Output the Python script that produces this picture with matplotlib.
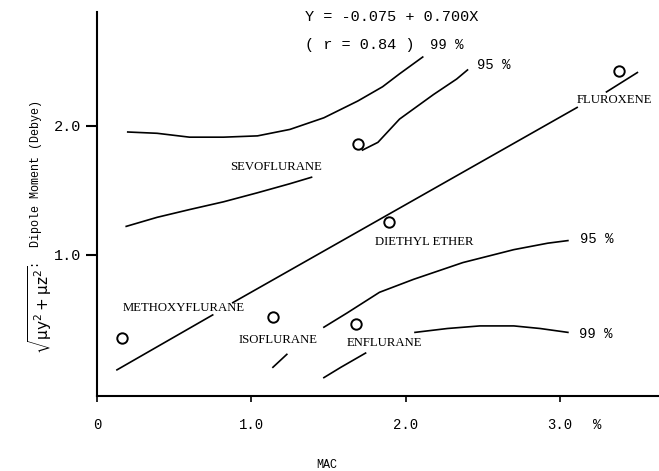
import numpy as np
import matplotlib
matplotlib.use("Agg")
import matplotlib.pyplot as plt

nan = np.nan

# anaesthetics: MAC (%) vs dipole moment (Debye)
names = ["METHOXYFLURANE", "ISOFLURANE", "ENFLURANE", "DIETHYL ETHER",
         "SEVOFLURANE", "FLUROXENE"]
mac = [0.165, 1.14, 1.68, 1.89, 1.69, 3.38]
dipole = [0.357, 0.52, 0.465, 1.25, 1.86, 2.42]

# label anchor (left, centre) for each name
label_x = [0.165, 0.92, 1.62, 1.80, 0.86, 3.11]
label_y = [0.59, 0.34, 0.32, 1.10, 1.68, 2.20]

# regression line (broken where labels sit)
reg_x = [0.13, 0.75, nan, 0.88, 3.11, nan, 3.30, 3.50]
reg_y = [0.11, 0.535, nan, 0.63, 2.14, nan, 2.26, 2.41]

# confidence bands
up99_x = [0.20, 0.39, 0.60, 0.82, 1.04, 1.25, 1.47, 1.69, 1.85, 1.96, 2.11]
up99_y = [1.95, 1.94, 1.91, 1.91, 1.92, 1.97, 2.06, 2.19, 2.30, 2.40, 2.53]

up95_x = [0.19, 0.39, 0.60, 0.82, 1.04, 1.25, 1.39, nan,
          1.72, 1.82, 1.96, 2.18, 2.33, 2.40]
up95_y = [1.22, 1.29, 1.35, 1.41, 1.48, 1.55, 1.60, nan,
          1.81, 1.87, 2.05, 2.24, 2.36, 2.43]

lo95_x = [1.14, 1.23, nan, 1.47, 1.62, 1.83, 2.05, 2.37, 2.70, 2.92, 3.05]
lo95_y = [0.13, 0.23, nan, 0.44, 0.55, 0.71, 0.81, 0.94, 1.04, 1.09, 1.11]

lo99_x = [1.47, 1.58, 1.74, nan, 2.06, 2.27, 2.48, 2.70, 2.87, 3.05]
lo99_y = [0.05, 0.13, 0.24, nan, 0.40, 0.43, 0.45, 0.45, 0.43, 0.40]

band_labels = ["99 %", "95 %", "95 %", "99 %"]
band_label_x = [2.16, 2.46, 3.13, 3.12]
band_label_y = [2.62, 2.47, 1.12, 0.39]

x_ticks = [0, 1, 2, 3]
x_ticklabels = ["0", "1.0", "2.0", "3.0"]
y_ticks = [1, 2]
y_ticklabels = ["1.0", "2.0"]

mono = "Liberation Mono"
serif = "Liberation Serif"

fig = plt.figure(figsize=(6.59, 4.71), dpi=100)
ax = fig.add_axes([0.147, 0.159, 0.853, 0.816])

for xs, ys in [(reg_x, reg_y), (up99_x, up99_y), (up95_x, up95_y),
               (lo95_x, lo95_y), (lo99_x, lo99_y)]:
    ax.plot(xs, ys, color="black", lw=1.2)

ax.plot(mac, dipole, "o", ms=7.5, mfc="white", mec="black", mew=1.4)

for name, lx, ly in zip(names, label_x, label_y):
    ax.text(lx, ly, name, family=serif, fontsize=9.2, ha="left", va="center")

for t, lx, ly in zip(band_labels, band_label_x, band_label_y):
    ax.text(lx, ly, t, family=mono, fontsize=10, ha="left", va="center")

ax.text(1.35, 2.84, "Y = -0.075 + 0.700X", family=mono, fontsize=11,
        ha="left", va="center")
ax.text(1.35, 2.62, "( r = 0.84 )", family=mono, fontsize=11,
        ha="left", va="center")

ax.set_xlim(0, 3.64)
ax.set_ylim(-0.093, 2.88)
ax.spines["top"].set_visible(False)
ax.spines["right"].set_visible(False)
for s in ["left", "bottom"]:
    ax.spines[s].set_linewidth(1.5)

ax.set_xticks(x_ticks)
ax.set_xticklabels(x_ticklabels, family=mono, fontsize=10)
ax.set_yticks(y_ticks)
ax.set_yticklabels(y_ticklabels, family=mono, fontsize=11)
ax.tick_params(axis="x", direction="out", length=4, width=1.2, pad=12)
ax.tick_params(axis="y", direction="out", length=8, width=1.5, pad=3)

# unit sign after the last x tick label
ax.text(3.24, -0.318, "%", family=mono, fontsize=10, ha="center",
        va="center", clip_on=False)

fig.text(327 / 659, 1 - 465 / 471, "MAC", family=mono, fontsize=8.5,
         ha="center", va="center")

fig.text(40 / 659, 1 - 310 / 471,
         r"$\sqrt{\mathrm{\mu y}^2 + \mathrm{\mu z}^2}$",
         fontsize=11, rotation=90, ha="center", va="center")
fig.text(36 / 659, 1 - 268 / 471, ":  Dipole Moment (Debye)", family=mono,
         fontsize=8.5, rotation=90, ha="center", va="bottom")

fig.savefig("out.png", dpi=100)
